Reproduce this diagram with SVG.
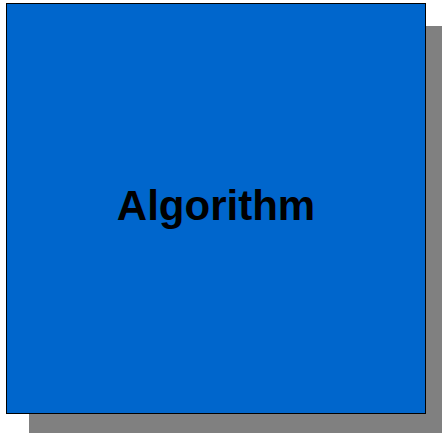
<svg xmlns="http://www.w3.org/2000/svg" width="442" height="433" viewBox="0 0 442 433">
<style>
.shadow{fill:#808080}
.box{fill:#0066CC;stroke:#000000;stroke-width:1}
.label{font-family:"Liberation Sans",Arial,sans-serif;font-weight:bold;font-size:42px;fill:#000000}
</style>
<rect width="442" height="433" fill="#ffffff"/>
<g id="node-algorithm">
<rect class="shadow" x="29" y="26" width="420" height="410"/>
<rect class="box" x="6.5" y="3.5" width="419" height="410"/>
<text class="label" x="216" y="220" text-anchor="middle">Algorithm</text>
</g>
<g id="connectors"/>
</svg>
